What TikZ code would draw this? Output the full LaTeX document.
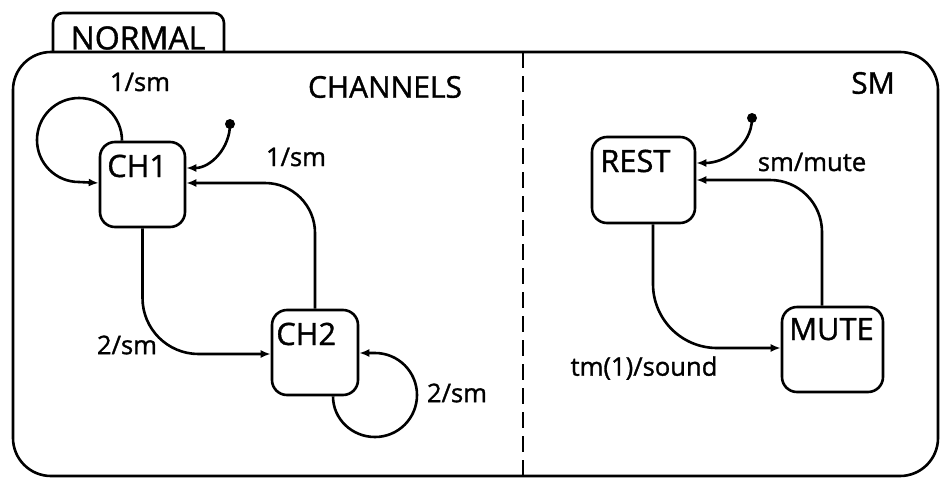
\documentclass[tikz,border=0pt]{standalone}
\usepackage{fontspec}
\setmainfont{Open Sans}[FakeBold=1.2]
\usetikzlibrary{arrows.meta,calc}
\begin{document}
\begin{tikzpicture}[x=0.5pt,y=0.5pt, line width=1.3pt,
  statebox/.style={draw, rounded corners=7.5pt, inner sep=0pt},
  sname/.style={anchor=base west, inner sep=0pt, font=\fontsize{15.4}{18}\selectfont},
  region/.style={inner sep=0pt, font=\fontsize{15}{18}\selectfont},
  tlabel/.style={inner sep=0pt, font=\fontsize{12.8}{15}\selectfont},
  trans/.style={-{Latex[length=5pt,width=4pt]}},
  initdot/.style={circle, fill, inner sep=0pt, minimum size=5pt},
  ]
\useasboundingbox (0,0) rectangle (941,478);
% outer frame and tab
\draw[rounded corners=19pt] (13,426) rectangle (938,2);
\draw[rounded corners=5pt] (53,426) -- (53,465) -- (224,465) -- (224,426);
\node[region, font=\fontsize{16}{19}\selectfont] (normal) at (138,440) {NORMAL};
\draw[dash pattern=on 8pt off 4pt] (523,426) -- (523,2);
\node[region] (channels) at (385,391) {CHANNELS};
\node[region] (sm) at (873,395) {SM};
% states
\node[statebox, minimum width=42.5pt, minimum height=42.5pt] (ch1) at (142.5,293.5) {};
\node[statebox, minimum width=43pt, minimum height=42.5pt] (ch2) at (315,125.5) {};
\node[statebox, minimum width=51.5pt, minimum height=43pt] (rest) at (643.5,298) {};
\node[statebox, minimum width=50.5pt, minimum height=42.5pt] (mute) at (832.5,128.5) {};
\node[sname] (ch1n) at (106,301) {CH1};
\node[sname] (ch2n) at (275,133) {CH2};
\node[sname] (restn) at (599,306) {REST};
\node[sname] (muten) at (788,138) {MUTE};
% initial dots
\node[initdot] (i1) at (230,354) {};
\node[initdot] (i2) at (752,360) {};
% transitions CHANNELS
\draw[trans] ($(ch1.north)+(-20.5,0)$) to[out=90,in=0] (79,380) to[out=180,in=90] (37,338)
  to[out=-90,in=180] (79,296) -- ($(ch1.west)+(0,1.5)$);
\node[tlabel] (l1) at (140,396) {1/sm};
\draw[trans] (i1.center) to[out=-90,in=0] ($(ch1.east)+(0,16.5)$);
\draw[trans, rounded corners=25pt] (ch2.north) -- (315,295) -- ($(ch1.east)+(0,1.5)$);
\node[tlabel] (l2) at (296,321) {1/sm};
\draw[trans, rounded corners=28pt] (ch1.south) -- (142.5,124) -- ($(ch2.west)+(0,-1.5)$);
\node[tlabel] (l3) at (127,133) {2/sm};
\draw[trans] ($(ch2.south)+(18,0)$) to[out=-90,in=180] (375,41) to[out=0,in=-90] (417,83)
  to[out=90,in=0] (375,125) -- ($(ch2.east)+(0,-0.5)$);
\node[tlabel] (l4) at (457,85) {2/sm};
% transitions SM
\draw[trans] (i2.center) to[out=-90,in=0] ($(rest.east)+(0,17)$);
\draw[trans, rounded corners=26pt] ($(mute.north)+(-10.5,0)$) -- (822,298) -- (rest.east);
\node[tlabel] (l5) at (812,316) {sm/mute};
\draw[trans, rounded corners=32pt] ($(rest.south)+(9.5,0)$) -- (653,130) -- ($(mute.west)+(0,1.5)$);
\node[tlabel] (l6) at (644,110) {tm(1)/sound};
\end{tikzpicture}
\end{document}
